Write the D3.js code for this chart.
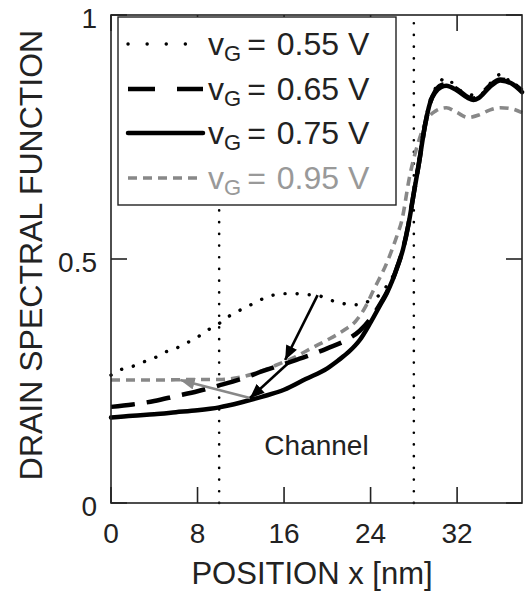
<!DOCTYPE html>
<html>
<head>
<meta charset="utf-8">
<script src="https://cdn.jsdelivr.net/npm/d3@7"></script>
<style>
  body { margin: 0; background: #fff; }
  svg { display: block; font-family: 'Liberation Sans', Arial, sans-serif; }
</style>
</head>
<body>
<svg id="chart" width="529" height="597"></svg>
<script>
// drain spectral function vs position, one array pair per gate voltage
let X_055 = [0, 1, 2, 3, 4, 5, 6, 7, 8, 9, 10, 11, 12, 13, 14, 15, 16, 17, 18, 19, 20, 21, 22, 23, 24, 25, 25.5, 26, 26.5, 27, 27.5, 28, 28.5, 29, 29.5, 30, 30.5, 31, 31.5, 32, 33, 34, 35, 35.5, 36, 36.5, 37, 37.5, 38];
let Y_055 = [0.262, 0.274, 0.28, 0.289, 0.297, 0.309, 0.317, 0.328, 0.34, 0.355, 0.368, 0.384, 0.396, 0.407, 0.418, 0.426, 0.429, 0.429, 0.427, 0.426, 0.418, 0.411, 0.407, 0.406, 0.416, 0.43, 0.445, 0.462, 0.488, 0.522, 0.572, 0.638, 0.708, 0.775, 0.825, 0.85, 0.868, 0.858, 0.862, 0.85, 0.838, 0.835, 0.858, 0.872, 0.878, 0.866, 0.87, 0.855, 0.85];

let X_065 = [0, 2, 4, 6, 8, 10, 12, 14, 16, 18, 20, 22, 23, 24, 25, 25.5, 26, 26.5, 27, 27.5, 28, 28.5, 29, 29.5, 30, 30.5, 31, 32, 33, 33.5, 34, 35, 36, 37, 38];
let Y_065 = [0.197, 0.202, 0.209, 0.219, 0.229, 0.241, 0.254, 0.27, 0.285, 0.3, 0.317, 0.337, 0.353, 0.378, 0.412, 0.432, 0.456, 0.486, 0.521, 0.571, 0.636, 0.70, 0.77, 0.82, 0.845, 0.856, 0.858, 0.848, 0.832, 0.829, 0.833, 0.855, 0.868, 0.862, 0.845];

let X_075 = [0, 2, 4, 6, 8, 10, 12, 14, 16, 18, 20, 21, 22, 23, 24, 25, 25.5, 26, 26.5, 27, 27.5, 28, 28.5, 29, 29.5, 30, 30.5, 31, 32, 33, 33.5, 34, 35, 36, 37, 38];
let Y_075 = [0.175, 0.179, 0.182, 0.186, 0.19, 0.196, 0.206, 0.218, 0.232, 0.254, 0.276, 0.292, 0.31, 0.334, 0.37, 0.41, 0.43, 0.455, 0.485, 0.52, 0.57, 0.635, 0.70, 0.77, 0.82, 0.842, 0.852, 0.855, 0.845, 0.83, 0.826, 0.83, 0.852, 0.866, 0.86, 0.842];

let X_095 = [0, 4, 8, 10, 12, 13.6, 15, 17, 18.6, 20, 21.6, 22.6, 23.6, 24.2, 25.5, 26.4, 26.9, 27.6, 28.4, 29.2, 30, 31, 32, 33, 34, 35, 36, 37, 38];
let Y_095 = [0.252, 0.252, 0.253, 0.253, 0.258, 0.268, 0.28, 0.299, 0.318, 0.334, 0.355, 0.372, 0.405, 0.433, 0.492, 0.545, 0.58, 0.668, 0.738, 0.785, 0.803, 0.81, 0.80, 0.79, 0.795, 0.805, 0.81, 0.808, 0.80];

let SERIES_LABELS = ['0.55 V', '0.65 V', '0.75 V', '0.95 V'];
let X_TICKS = [0, 8, 16, 24, 32];
let Y_TICKS = [0, 0.5, 1];
let Y_TICK_LABELS = ['0', '0.5', '1'];
let CHANNEL_EDGES = [10, 28];
// arrows: [x0, y0, x1, y1] in data units
let ARROWS_BLACK = [[19.1, 0.426, 16.1, 0.293], [16.4, 0.287, 12.85, 0.215]];
let ARROWS_GRAY = [[12.85, 0.215, 6.4, 0.252]];

let width = 529, height = 597;
let margin = { top: 15, right: 7, bottom: 94, left: 111 };
let innerW = width - margin.left - margin.right;
let innerH = height - margin.top - margin.bottom;

let svg = d3.select('#chart');

let x = d3.scaleLinear().domain([0, 38]).range([margin.left, margin.left + innerW]);
let y = d3.scaleLinear().domain([0, 1]).range([margin.top + innerH, margin.top]);

// arrow heads
let defs = svg.append('defs');
[['headBlack', '#000'], ['headGray', '#888']].forEach(([id, c]) => {
  defs.append('marker')
    .attr('id', id)
    .attr('viewBox', '0 -5 12 10')
    .attr('refX', 12).attr('refY', 0)
    .attr('markerWidth', 15).attr('markerHeight', 12)
    .attr('markerUnits', 'userSpaceOnUse')
    .attr('orient', 'auto')
    .append('path')
    .attr('d', 'M0,-5L12,0L0,5Z')
    .attr('fill', c);
});

let plot = svg.append('g');

// channel boundaries
plot.selectAll('line.edge')
  .data(CHANNEL_EDGES)
  .enter().append('line')
  .attr('class', 'edge')
  .attr('x1', d => x(d)).attr('x2', d => x(d))
  .attr('y1', y(0)).attr('y2', y(1))
  .attr('stroke', '#000')
  .attr('stroke-width', 2.6)
  .attr('stroke-linecap', 'round')
  .attr('stroke-dasharray', '0.1,11.6');

let line = d3.line()
  .x(d => x(d[0]))
  .y(d => y(d[1]))
  .curve(d3.curveMonotoneX);

let zip = (a, b) => a.map((v, i) => [v, b[i]]);

let styles = [
  { xs: X_055, ys: Y_055, color: '#000', w: 3.4, dash: '0.1,12', cap: 'round', legDash: '0.1,19' },
  { xs: X_065, ys: Y_065, color: '#000', w: 4.5, dash: '24,12', cap: 'butt', legDash: '27,22' },
  { xs: X_075, ys: Y_075, color: '#000', w: 4.5, dash: null, cap: 'round', legDash: null },
  { xs: X_095, ys: Y_095, color: '#888', w: 3.6, dash: '9,6', cap: 'butt', legDash: '9,6' }
];

// gray first, then black curves on top
[3, 0, 1, 2].forEach(i => {
  let s = styles[i];
  plot.append('path')
    .datum(zip(s.xs, s.ys))
    .attr('d', line)
    .attr('fill', 'none')
    .attr('stroke', s.color)
    .attr('stroke-width', s.w)
    .attr('stroke-linecap', s.cap)
    .attr('stroke-dasharray', s.dash);
});

// arrows
let drawArrows = (list, color, marker) => {
  plot.selectAll(null)
    .data(list)
    .enter().append('line')
    .attr('x1', d => x(d[0])).attr('y1', d => y(d[1]))
    .attr('x2', d => x(d[2])).attr('y2', d => y(d[3]))
    .attr('stroke', color)
    .attr('stroke-width', 2.6)
    .attr('marker-end', 'url(#' + marker + ')');
};
drawArrows(ARROWS_GRAY, '#888', 'headGray');
drawArrows(ARROWS_BLACK, '#000', 'headBlack');

plot.append('text')
  .attr('x', x(19))
  .attr('y', y(0.098))
  .attr('text-anchor', 'middle')
  .attr('font-size', 28)
  .attr('fill', '#222')
  .text('Channel');

// frame and inner ticks
let frame = svg.append('g').attr('stroke', '#222').attr('stroke-width', 1.6);
frame.append('rect')
  .attr('x', margin.left).attr('y', margin.top)
  .attr('width', innerW).attr('height', innerH)
  .attr('fill', 'none');
let tickLen = 16;
X_TICKS.forEach(t => {
  frame.append('line').attr('x1', x(t)).attr('x2', x(t)).attr('y1', y(0)).attr('y2', y(0) - tickLen);
  frame.append('line').attr('x1', x(t)).attr('x2', x(t)).attr('y1', y(1)).attr('y2', y(1) + tickLen);
});
Y_TICKS.forEach(t => {
  frame.append('line').attr('x1', x(0)).attr('x2', x(0) + tickLen).attr('y1', y(t)).attr('y2', y(t));
  frame.append('line').attr('x1', x(38)).attr('x2', x(38) - tickLen).attr('y1', y(t)).attr('y2', y(t));
});

// tick labels
svg.append('g').selectAll('text')
  .data(X_TICKS)
  .enter().append('text')
  .attr('x', d => x(d))
  .attr('y', 543)
  .attr('text-anchor', 'middle')
  .attr('font-size', 28)
  .attr('fill', '#222')
  .text(d => d);

svg.append('g').selectAll('text')
  .data(Y_TICKS)
  .enter().append('text')
  .attr('x', 97)
  .attr('y', d => y(d) + 13)
  .attr('text-anchor', 'end')
  .attr('font-size', 28)
  .attr('fill', '#222')
  .text((d, i) => Y_TICK_LABELS[i]);

// axis titles
svg.append('text')
  .attr('x', 312)
  .attr('y', 584)
  .attr('text-anchor', 'middle')
  .attr('font-size', 31)
  .attr('fill', '#222')
  .text('POSITION x [nm]');

svg.append('text')
  .attr('transform', 'translate(42,255) rotate(-90)')
  .attr('text-anchor', 'middle')
  .attr('font-size', 32)
  .attr('fill', '#222')
  .text('DRAIN SPECTRAL FUNCTION');

// legend
let legend = svg.append('g');
legend.append('rect')
  .attr('x', 118).attr('y', 17)
  .attr('width', 278).attr('height', 188)
  .attr('fill', '#fff')
  .attr('stroke', '#222')
  .attr('stroke-width', 1.4);

let rowY = [44, 89, 133, 178];
styles.forEach((s, i) => {
  legend.append('line')
    .attr('x1', 128).attr('x2', 203)
    .attr('y1', rowY[i]).attr('y2', rowY[i])
    .attr('stroke', s.color)
    .attr('stroke-width', s.w)
    .attr('stroke-linecap', s.cap)
    .attr('stroke-dasharray', s.legDash);
  let t = legend.append('text')
    .attr('x', 208)
    .attr('y', rowY[i] + 11)
    .attr('font-size', 32)
    .attr('fill', i === 3 ? '#999' : '#222');
  t.append('tspan').text('v');
  t.append('tspan').attr('font-size', 22).attr('dy', 6).text('G');
  t.append('tspan').attr('dy', -6).attr('dx', 6).text('= ');
  t.append('tspan').attr('dx', 2).text(SERIES_LABELS[i]);
});
</script>
</body>
</html>
